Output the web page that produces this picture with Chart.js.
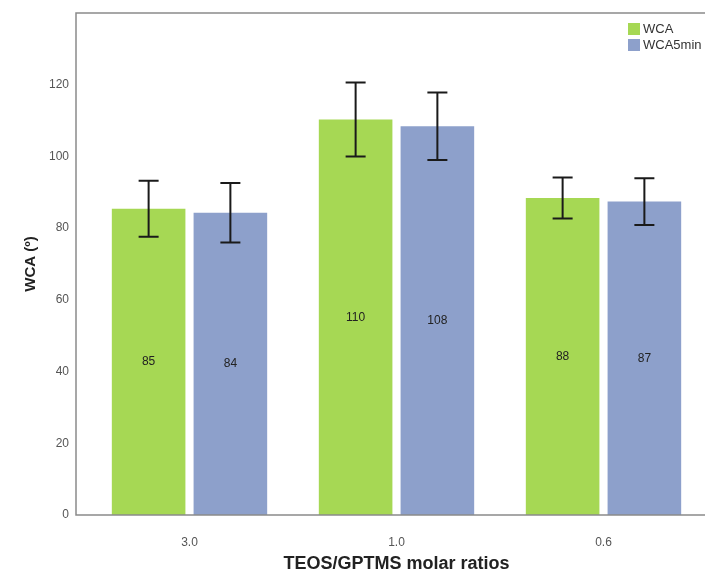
<!DOCTYPE html>
<html><head><meta charset="utf-8">
<script src="https://cdn.jsdelivr.net/npm/chart.js@4/dist/chart.umd.min.js"></script>
<style>html,body{margin:0;padding:0;overflow:hidden;background:#fff;width:705px;height:572px}canvas{display:block}</style>
</head><body>
<canvas id="c" width="720" height="572"></canvas>
<script>
const categories = ['3.0', '1.0', '0.6'];
const seriesNames = ['WCA', 'WCA5min'];
const wcaValues = [85.4, 110.3, 88.4];
const wca5minValues = [84.3, 108.4, 87.4];
const wcaErrors = [7.8, 10.3, 5.7];
const wca5minErrors = [8.3, 9.4, 6.5];
const yTickValues = [0, 20, 40, 60, 80, 100, 120];
const seriesColors = ['#a6d854', '#8da0cb'];

const FONT = '"Liberation Sans", Arial, sans-serif';

const framePlugin = {
  id: 'frame',
  afterDraw(chart) {
    const {ctx, chartArea} = chart;
    const left = chartArea.left - 10;
    ctx.save();
    ctx.strokeStyle = '#8a8a8a';
    ctx.lineWidth = 1.5;
    ctx.beginPath();
    ctx.moveTo(chart.width, chartArea.top);
    ctx.lineTo(left, chartArea.top);
    ctx.lineTo(left, chartArea.bottom);
    ctx.lineTo(chart.width, chartArea.bottom);
    ctx.stroke();
    ctx.restore();
  }
};

const errorPlugin = {
  id: 'errors',
  afterDatasetsDraw(chart) {
    const {ctx} = chart;
    const y = chart.scales.y;
    chart.data.datasets.forEach((ds, di) => {
      const meta = chart.getDatasetMeta(di);
      meta.data.forEach((bar, i) => {
        const v = ds.data[i], e = ds.errors[i];
        const yt = y.getPixelForValue(v + e), yb = y.getPixelForValue(v - e);
        ctx.save();
        ctx.fillStyle = '#222';
        ctx.font = '12px ' + FONT;
        ctx.textAlign = 'center';
        ctx.textBaseline = 'middle';
        ctx.fillText(String(Math.round(v)), bar.x, (bar.y + bar.base) / 2);
        ctx.strokeStyle = '#1a1a1a';
        ctx.lineWidth = 2;
        ctx.beginPath();
        ctx.moveTo(bar.x, yt); ctx.lineTo(bar.x, yb);
        ctx.moveTo(bar.x - 10, yt); ctx.lineTo(bar.x + 10, yt);
        ctx.moveTo(bar.x - 10, yb); ctx.lineTo(bar.x + 10, yb);
        ctx.stroke();
        ctx.restore();
      });
    });
  }
};

const legendPlugin = {
  id: 'customLegend',
  afterDraw(chart) {
    const {ctx, chartArea} = chart;
    ctx.save();
    ctx.font = '13px ' + FONT;
    ctx.textBaseline = 'middle';
    ctx.textAlign = 'left';
    chart.data.datasets.forEach((ds, i) => {
      const top = chartArea.top + 10 + i * 16;
      ctx.fillStyle = ds.backgroundColor;
      ctx.fillRect(628, top, 12, 12);
      ctx.fillStyle = '#333';
      ctx.fillText(ds.label, 643, top + 6.5);
    });
    ctx.restore();
  }
};

new Chart(document.getElementById('c'), {
  type: 'bar',
  data: {
    labels: categories,
    datasets: [
      {label: seriesNames[0], data: wcaValues, errors: wcaErrors, backgroundColor: seriesColors[0]},
      {label: seriesNames[1], data: wca5minValues, errors: wca5minErrors, backgroundColor: seriesColors[1]}
    ]
  },
  options: {
    responsive: false,
    animation: false,
    devicePixelRatio: 1,
    layout: {padding: {top: 13, right: 13, left: 0, bottom: 0}},
    datasets: {bar: {barPercentage: 0.9, categoryPercentage: 0.79}},
    plugins: {legend: {display: false}, tooltip: {enabled: false}},
    scales: {
      x: {
        grid: {display: false, drawTicks: false},
        border: {display: false},
        ticks: {color: '#555', font: {family: FONT, size: 12}, padding: 20},
        title: {display: true, text: 'TEOS/GPTMS molar ratios', color: '#222',
                font: {family: FONT, size: 18, weight: 'bold', lineHeight: 1}, padding: {top: 0, bottom: -1}},
        afterFit(scale) { scale.height = 57; scale.paddingLeft = 0; scale.paddingRight = 0; }
      },
      y: {
        min: 0, max: 140,
        grid: {display: false, drawTicks: false},
        border: {display: false},
        ticks: {color: '#555', font: {family: FONT, size: 12}, padding: 17},
        afterBuildTicks(scale) { scale.ticks = yTickValues.map(v => ({value: v})); },
        title: {display: true, text: 'WCA (º)', color: '#222',
                font: {family: FONT, size: 15, weight: 'bold', lineHeight: 1.2}, padding: {top: 22, bottom: 0}},
        afterFit(scale) { scale.width = 86; scale.paddingTop = 0; scale.paddingBottom = 0; }
      }
    }
  },
  plugins: [framePlugin, errorPlugin, legendPlugin]
});
</script>
</body></html>
